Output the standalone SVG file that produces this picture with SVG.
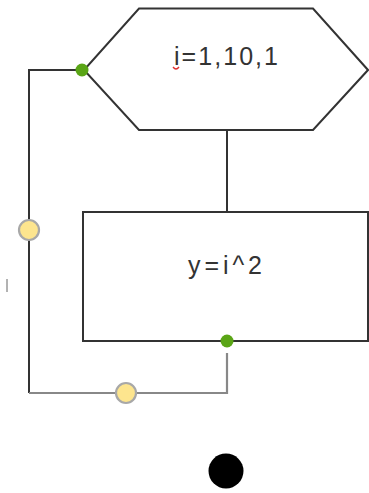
<svg xmlns="http://www.w3.org/2000/svg" width="369" height="493" viewBox="0 0 369 493">
<style>
.shape{fill:#fff;stroke:#333;stroke-width:2}
.lbl{font-family:"Liberation Sans",Arial,sans-serif;font-size:25px;fill:#333;text-anchor:start}
.conn{fill:none;stroke:#333;stroke-width:2}
.conn2{fill:none;stroke:#888;stroke-width:2.2}
.port{fill:#5aa516}
.handle{fill:#fde58e;stroke:#a8a8a8;stroke-width:2.2}
</style>
<rect width="369" height="493" fill="#fff"/>
<g id="connectors">
<line class="conn" x1="227" y1="130" x2="227" y2="212"/>
<polyline class="conn" points="76,70 29,70 29,393"/>
<polyline class="conn2" points="29,393 227,393 227,353"/>
</g>
<g id="loop">
<polygon class="shape" points="139,8.5 313,8.5 368,70 313,130 139,130 84,70"/>
<text class="lbl" x="174" y="65" textLength="104" lengthAdjust="spacing">i=1,10,1</text>
<path d="M173,67 q3,4 6,0" fill="none" stroke="#e03030" stroke-width="1.3"/>
</g>
<g id="process">
<rect class="shape" x="83" y="212" width="285" height="129"/>
<text class="lbl" x="188" y="274" textLength="74" lengthAdjust="spacing">y=i^2</text>
</g>
<g id="ports">
<circle class="port" cx="82" cy="70" r="6.5"/>
<circle class="port" cx="227" cy="341" r="6.5"/>
<circle class="handle" cx="29" cy="230" r="10"/>
<circle class="handle" cx="126" cy="393" r="10"/>
</g>
<g id="end">
<circle cx="226" cy="471" r="17.5" fill="#000"/>
</g>
<line x1="7" y1="279" x2="7" y2="292" stroke="#666" stroke-width="1"/>
</svg>
